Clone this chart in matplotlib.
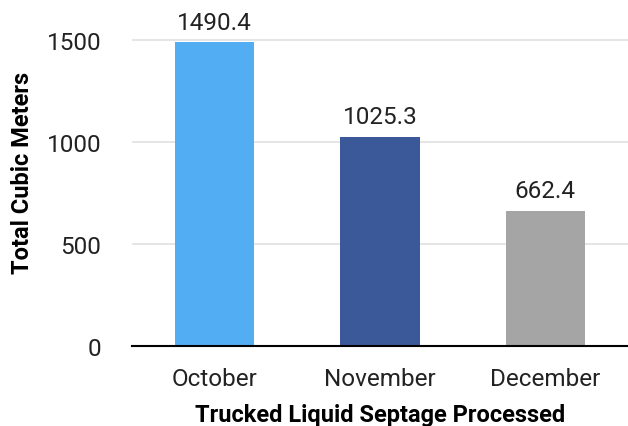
import matplotlib.pyplot as plt

# Données du graphique
months = ["October", "November", "December"]
volumes = [1490.4, 1025.3, 662.4]
colors = ["#52adf2", "#3b5998", "#a5a5a5"]
yticks = [0, 500, 1000, 1500]

plt.rcParams['font.family'] = ['Roboto', 'DejaVu Sans']

fig = plt.figure(figsize=(6.28, 4.27), dpi=100)
ax = fig.add_axes([132 / 628, 80.3 / 427, 496 / 628, 346.7 / 427])

x = range(len(months))
bars = ax.bar(x, volumes, width=0.48, color=colors, zorder=3)

# Étiquettes au-dessus des barres
for b, v in zip(bars, volumes):
    ax.annotate(f"{v}", (b.get_x() + b.get_width() / 2, v),
                xytext=(0, 9.5), textcoords="offset points",
                ha="center", va="baseline", fontsize=17.5, color="#222222")

ax.set_xlim(-0.5, 2.5)
ax.set_ylim(0, 1700)
ax.set_yticks(yticks)
ax.set_xticks(list(x))
ax.set_xticklabels(months)
ax.tick_params(axis="both", length=0, labelsize=17.5, colors="#222222")
ax.tick_params(axis="y", pad=22)
ax.tick_params(axis="x", pad=15)

ax.grid(axis="y", color="#e0e0e0", linewidth=1.2, zorder=0)
for s in ["top", "right", "left"]:
    ax.spines[s].set_visible(False)
ax.spines["bottom"].set_color("black")
ax.spines["bottom"].set_linewidth(1.5)
ax.spines["bottom"].set_zorder(4)

ax.set_xlabel("Trucked Liquid Septage Processed", fontsize=17, fontweight="bold", labelpad=10)
ax.set_ylabel("Total Cubic Meters", fontsize=17, fontweight="bold", labelpad=9)

fig.savefig("out.png", dpi=100)
